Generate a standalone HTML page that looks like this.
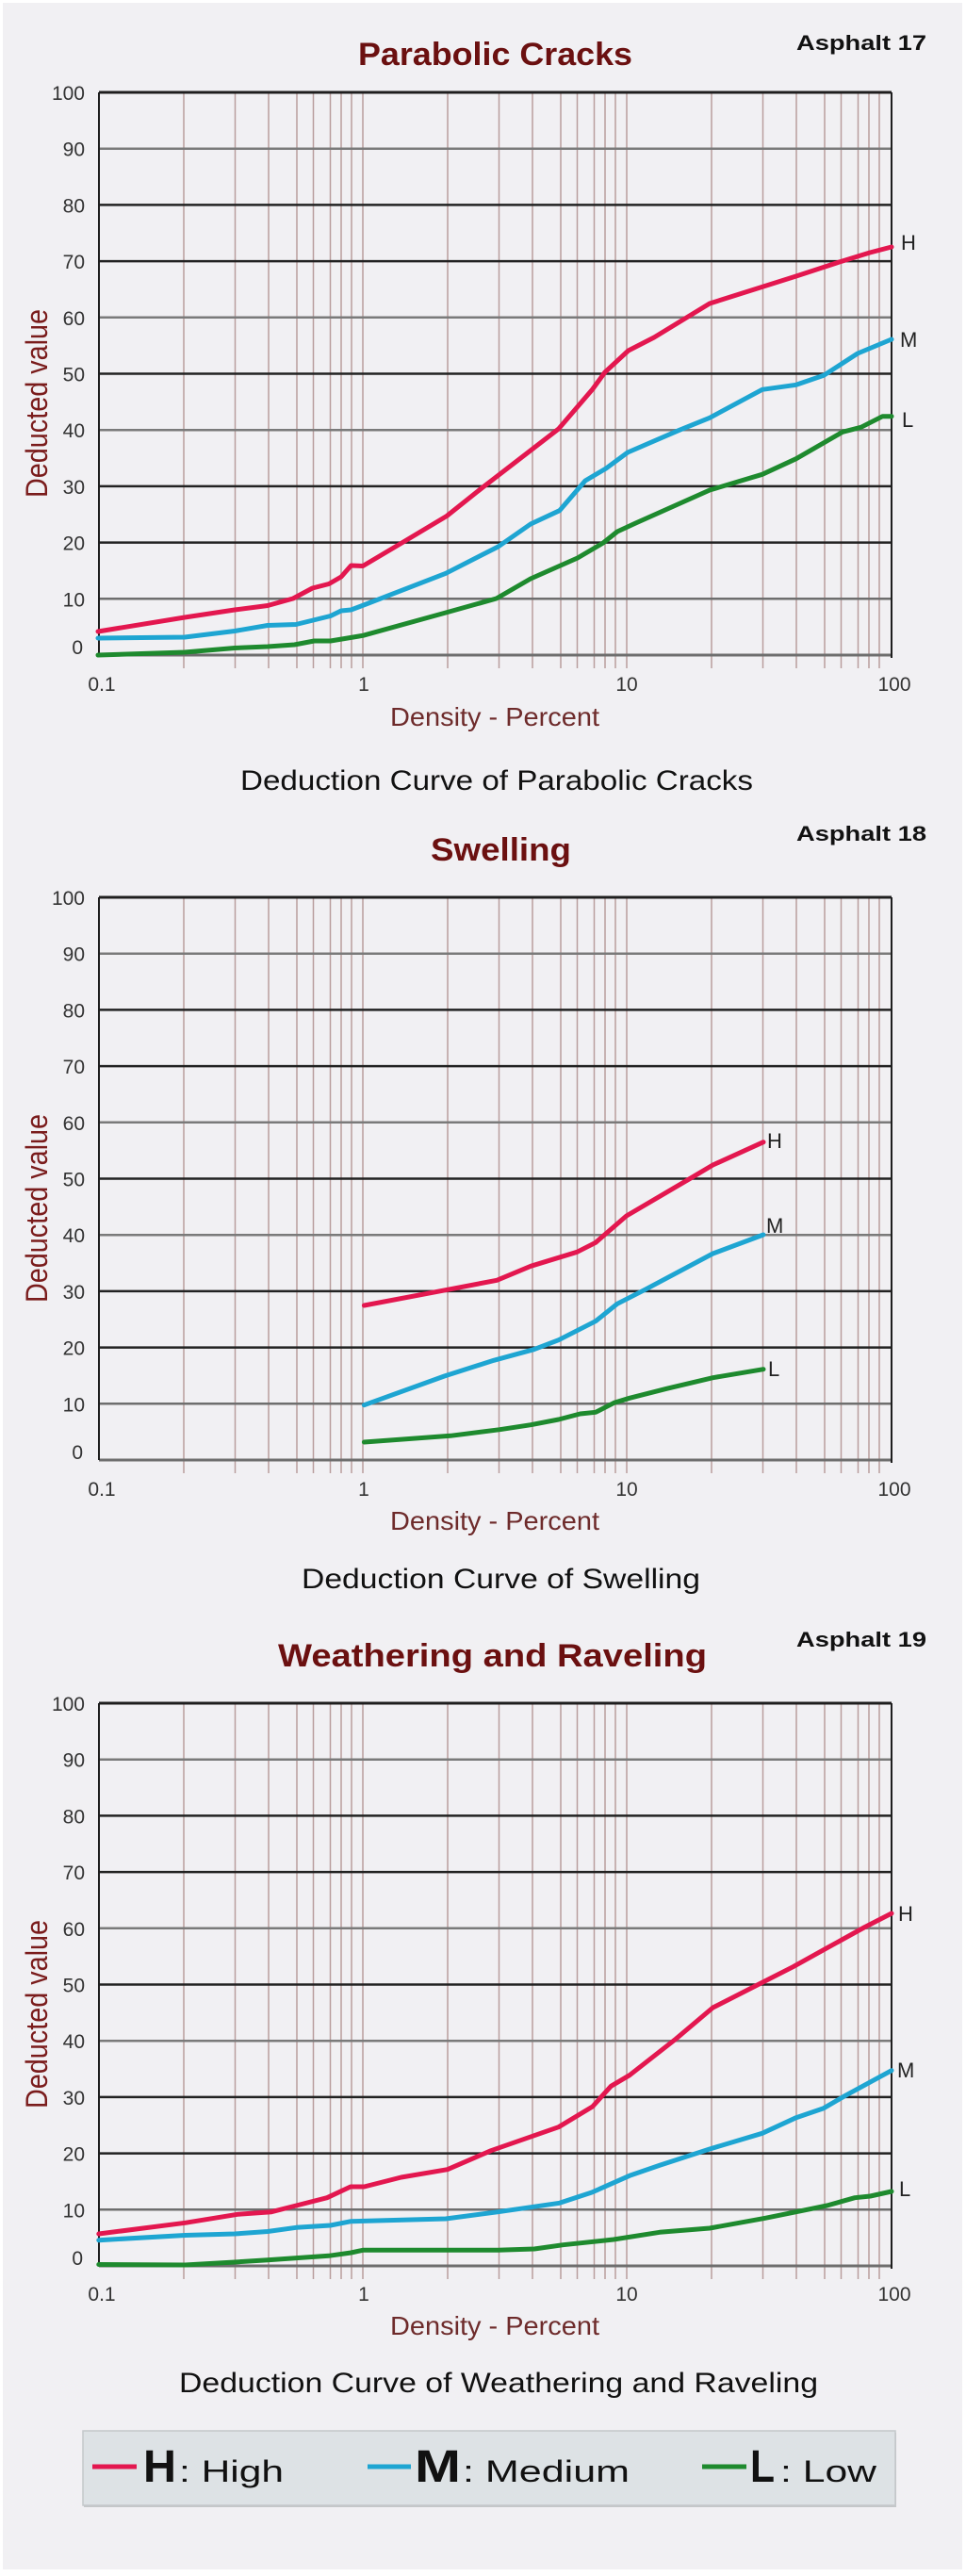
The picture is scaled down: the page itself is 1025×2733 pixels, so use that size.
<!DOCTYPE html>
<html>
<head>
<meta charset="utf-8">
<style>
html,body{margin:0;padding:0;background:#ffffff;}
svg{display:block;}
text{font-family:"Liberation Sans",sans-serif;}
</style>
</head>
<body>
<svg width="1025" height="2733" viewBox="0 0 1025 2733" xmlns="http://www.w3.org/2000/svg">
<defs>
<g id="vgrid" stroke="#b99d9d" stroke-width="1.5">
<line x1="195" y1="0" x2="195" y2="611"/><line x1="249.5" y1="0" x2="249.5" y2="611"/><line x1="285" y1="0" x2="285" y2="611"/><line x1="315" y1="0" x2="315" y2="611"/><line x1="332.5" y1="0" x2="332.5" y2="611"/><line x1="350.5" y1="0" x2="350.5" y2="611"/><line x1="362" y1="0" x2="362" y2="611"/><line x1="373" y1="0" x2="373" y2="611"/><line x1="385" y1="0" x2="385" y2="611"/>
<line x1="475" y1="0" x2="475" y2="611"/><line x1="529.5" y1="0" x2="529.5" y2="611"/><line x1="565" y1="0" x2="565" y2="611"/><line x1="595" y1="0" x2="595" y2="611"/><line x1="612.5" y1="0" x2="612.5" y2="611"/><line x1="630.5" y1="0" x2="630.5" y2="611"/><line x1="642" y1="0" x2="642" y2="611"/><line x1="653" y1="0" x2="653" y2="611"/><line x1="665" y1="0" x2="665" y2="611"/>
<line x1="755" y1="0" x2="755" y2="611"/><line x1="809.5" y1="0" x2="809.5" y2="611"/><line x1="845" y1="0" x2="845" y2="611"/><line x1="875" y1="0" x2="875" y2="611"/><line x1="892.5" y1="0" x2="892.5" y2="611"/><line x1="910.5" y1="0" x2="910.5" y2="611"/><line x1="922" y1="0" x2="922" y2="611"/><line x1="933" y1="0" x2="933" y2="611"/>
</g>
<g id="hgrid" stroke-width="2.5">
<line x1="105" y1="0" x2="946" y2="0" stroke="#1e1e1e" stroke-width="3"/>
<line x1="105" y1="59.7" x2="946" y2="59.7" stroke="#7a7a7a"/>
<line x1="105" y1="119.4" x2="946" y2="119.4" stroke="#222"/>
<line x1="105" y1="179.1" x2="946" y2="179.1" stroke="#222"/>
<line x1="105" y1="238.8" x2="946" y2="238.8" stroke="#7a7a7a"/>
<line x1="105" y1="298.5" x2="946" y2="298.5" stroke="#222"/>
<line x1="105" y1="358.2" x2="946" y2="358.2" stroke="#7a7a7a"/>
<line x1="105" y1="417.9" x2="946" y2="417.9" stroke="#222"/>
<line x1="105" y1="477.6" x2="946" y2="477.6" stroke="#222"/>
<line x1="105" y1="537.3" x2="946" y2="537.3" stroke="#6e6e6e"/>
<line x1="105" y1="597" x2="946" y2="597" stroke="#6e6e6e" stroke-width="3"/>
<line x1="105" y1="0" x2="105" y2="597" stroke="#1e1e1e" stroke-width="2"/>
<line x1="946" y1="0" x2="946" y2="600" stroke="#1e1e1e" stroke-width="2"/>
</g>
<g id="ylabels" font-size="21" fill="#333" text-anchor="end">
<text x="90" y="8">100</text>
<text x="90" y="67.7">90</text>
<text x="90" y="127.4">80</text>
<text x="90" y="187.1">70</text>
<text x="90" y="246.8">60</text>
<text x="90" y="306.5">50</text>
<text x="90" y="366.2">40</text>
<text x="90" y="425.9">30</text>
<text x="90" y="485.6">20</text>
<text x="90" y="545.3">10</text>
<text x="88" y="596">0</text>
</g>
</defs>

<rect x="3" y="3" width="1018" height="2723" fill="#f1f0f3"/>

<!-- ============ CHART 1 ============ -->
<text x="845" y="53" font-size="22" font-weight="bold" fill="#111" textLength="138" lengthAdjust="spacingAndGlyphs">Asphalt 17</text>
<text x="380" y="69" font-size="34" font-weight="bold" fill="#6b1010" textLength="291" lengthAdjust="spacingAndGlyphs">Parabolic Cracks</text>
<g transform="translate(0,98)">
<use href="#vgrid"/>
<use href="#hgrid"/>
<use href="#ylabels"/>
</g>
<text transform="translate(50,428) rotate(-90)" x="0" y="0" font-size="32" fill="#7a1c1c" text-anchor="middle" textLength="200" lengthAdjust="spacingAndGlyphs">Deducted value</text>
<g fill="none" stroke-width="5" stroke-linejoin="round" stroke-linecap="round">
<polyline stroke="#1e8a2e" points="104,695 196,692 249,687.5 284,686 312.4,684 333.4,680 350.7,680 385,674.3 473,650 526.7,635 563,614 612.8,592 640,576 655,564 674.5,555 753,520 808.8,503.3 844.8,486.7 894,458.3 913.6,453.3 936.5,441.7 946,441.7"/>
<polyline stroke="#1ea5d2" points="104,677 196,676 249,669.5 284,663.5 314,662.5 350.7,653.5 362,648 372.5,647 391,640 473,608.3 528.6,580 563,556 593.7,541.7 621,510 643,497 666,480 720,456.7 753,443.3 808.8,413.3 844.8,408.3 874,398.3 910,375 946,360"/>
<polyline stroke="#e3174f" points="104,670 196,655 249,647 284,642.5 311,635 331.5,624 349,619.5 362,612 372.5,600 385,600.5 425.5,576.5 474,547.5 511,518 559,481 592.7,455 628.7,413 641.8,395 666.7,372 694,358 753,322 844.8,293 890.6,278 923,268 946,262"/>
</g>
<g font-size="22" fill="#222">
<text x="956" y="265">H</text>
<text x="955" y="368">M</text>
<text x="957" y="453">L</text>
</g>
<g font-size="21" fill="#333" text-anchor="middle">
<text x="108" y="733">0.1</text>
<text x="386" y="733">1</text>
<text x="665" y="733">10</text>
<text x="949" y="733">100</text>
</g>
<text x="414" y="770" font-size="28" fill="#6e2b2b" textLength="222" lengthAdjust="spacingAndGlyphs">Density - Percent</text>
<text x="255" y="838" font-size="30" fill="#111" textLength="544" lengthAdjust="spacingAndGlyphs">Deduction Curve of Parabolic Cracks</text>

<!-- ============ CHART 2 ============ -->
<text x="845" y="892" font-size="22" font-weight="bold" fill="#111" textLength="138" lengthAdjust="spacingAndGlyphs">Asphalt 18</text>
<text x="457" y="913" font-size="34" font-weight="bold" fill="#6b1010" textLength="149" lengthAdjust="spacingAndGlyphs">Swelling</text>
<g transform="translate(0,952)">
<use href="#vgrid"/>
<use href="#hgrid"/>
<use href="#ylabels"/>
</g>
<text transform="translate(50,1282) rotate(-90)" x="0" y="0" font-size="32" fill="#7a1c1c" text-anchor="middle" textLength="200" lengthAdjust="spacingAndGlyphs">Deducted value</text>
<g fill="none" stroke-width="5" stroke-linejoin="round" stroke-linecap="round">
<polyline stroke="#1e8a2e" points="386.4,1530 478,1523.3 530.4,1516.7 563.2,1511.7 592.7,1506 615.6,1500 632,1498.3 651.6,1488.3 668,1483.3 707.3,1473.3 756.4,1461.7 810,1452.7"/>
<polyline stroke="#1ea5d2" points="386.4,1490.7 471.5,1460 523.9,1443.3 566.5,1431.7 592.7,1421.7 632,1401.7 654.9,1383.3 684.3,1368.3 756.4,1330 810,1310"/>
<polyline stroke="#e3174f" points="386.4,1385 474.8,1368.3 527.2,1358.3 563.2,1343.3 612.3,1328.3 632,1318.3 664.7,1290 730,1251.7 756.4,1236 810,1211.7"/>
</g>
<g font-size="22" fill="#222">
<text x="814" y="1218">H</text>
<text x="813" y="1308">M</text>
<text x="815" y="1460">L</text>
</g>
<g font-size="21" fill="#333" text-anchor="middle">
<text x="108" y="1587">0.1</text>
<text x="386" y="1587">1</text>
<text x="665" y="1587">10</text>
<text x="949" y="1587">100</text>
</g>
<text x="414" y="1623" font-size="28" fill="#6e2b2b" textLength="222" lengthAdjust="spacingAndGlyphs">Density - Percent</text>
<text x="320" y="1685" font-size="30" fill="#111" textLength="423" lengthAdjust="spacingAndGlyphs">Deduction Curve of Swelling</text>

<!-- ============ CHART 3 ============ -->
<text x="845" y="1747" font-size="22" font-weight="bold" fill="#111" textLength="138" lengthAdjust="spacingAndGlyphs">Asphalt 19</text>
<text x="295" y="1768" font-size="34" font-weight="bold" fill="#6b1010" textLength="455" lengthAdjust="spacingAndGlyphs">Weathering and Raveling</text>
<g transform="translate(0,1807)">
<use href="#vgrid"/>
<use href="#hgrid"/>
<use href="#ylabels"/>
</g>
<text transform="translate(50,2137) rotate(-90)" x="0" y="0" font-size="32" fill="#7a1c1c" text-anchor="middle" textLength="200" lengthAdjust="spacingAndGlyphs">Deducted value</text>
<g fill="none" stroke-width="5" stroke-linejoin="round" stroke-linecap="round">
<polyline stroke="#1e8a2e" points="104.8,2402.5 196.5,2403 249,2400 284,2397.7 348.8,2393.3 372.5,2390 385,2387.3 528.6,2387.3 567,2386 597.5,2381.7 651,2376 700,2368.3 753,2364 812,2353.3 844.8,2346.7 877.5,2340 907,2331.7 923.4,2330 946,2325"/>
<polyline stroke="#1ea5d2" points="104.8,2376.7 196.5,2371.5 249,2370 284,2367.5 314.3,2363.3 350.7,2361 372.5,2356.7 473,2354 528.6,2346.7 593.7,2337.3 628,2326 668,2308.3 700,2297.3 753,2280 808.8,2263.3 844.8,2246.7 874,2236.7 897,2223.3 946,2196.7"/>
<polyline stroke="#e3174f" points="104.8,2370 196.5,2358.3 252,2349.3 288,2346.7 314.3,2340 347,2331.7 372,2320 386.4,2320 425.7,2310 474.8,2301.7 521,2281.7 592.7,2256.7 628.7,2235 648.3,2213.3 668,2201.7 717,2163.3 756.4,2130 805.5,2105 841.5,2086.7 877.5,2066.7 916.8,2045 946,2030"/>
</g>
<g font-size="22" fill="#222">
<text x="953" y="2038">H</text>
<text x="952" y="2204">M</text>
<text x="954" y="2330">L</text>
</g>
<g font-size="21" fill="#333" text-anchor="middle">
<text x="108" y="2441">0.1</text>
<text x="386" y="2441">1</text>
<text x="665" y="2441">10</text>
<text x="949" y="2441">100</text>
</g>
<text x="414" y="2477" font-size="28" fill="#6e2b2b" textLength="222" lengthAdjust="spacingAndGlyphs">Density - Percent</text>
<text x="190" y="2538" font-size="30" fill="#111" textLength="678" lengthAdjust="spacingAndGlyphs">Deduction Curve of Weathering and Raveling</text>

<!-- ============ LEGEND ============ -->
<rect x="89" y="2581" width="862" height="79" fill="#c4c7c9"/>
<rect x="88" y="2579" width="862" height="79" fill="#dde2e5" stroke="#c3c7ca" stroke-width="1.5"/>
<line x1="98" y1="2617" x2="145" y2="2617" stroke="#e3174f" stroke-width="5"/>
<text x="152" y="2633" font-size="48" font-weight="bold" fill="#111" textLength="35" lengthAdjust="spacingAndGlyphs">H</text>
<text x="190" y="2633" font-size="32" fill="#111" textLength="111" lengthAdjust="spacingAndGlyphs">: High</text>
<line x1="390" y1="2617" x2="436" y2="2617" stroke="#1ea5d2" stroke-width="5"/>
<text x="440" y="2633" font-size="48" font-weight="bold" fill="#111" textLength="49" lengthAdjust="spacingAndGlyphs">M</text>
<text x="491" y="2633" font-size="32" fill="#111" textLength="177" lengthAdjust="spacingAndGlyphs">: Medium</text>
<line x1="745" y1="2617" x2="792" y2="2617" stroke="#1e8a2e" stroke-width="5"/>
<text x="796" y="2633" font-size="48" font-weight="bold" fill="#111" textLength="26" lengthAdjust="spacingAndGlyphs">L</text>
<text x="828" y="2633" font-size="32" fill="#111" textLength="102" lengthAdjust="spacingAndGlyphs">: Low</text>
</svg>
</body>
</html>
